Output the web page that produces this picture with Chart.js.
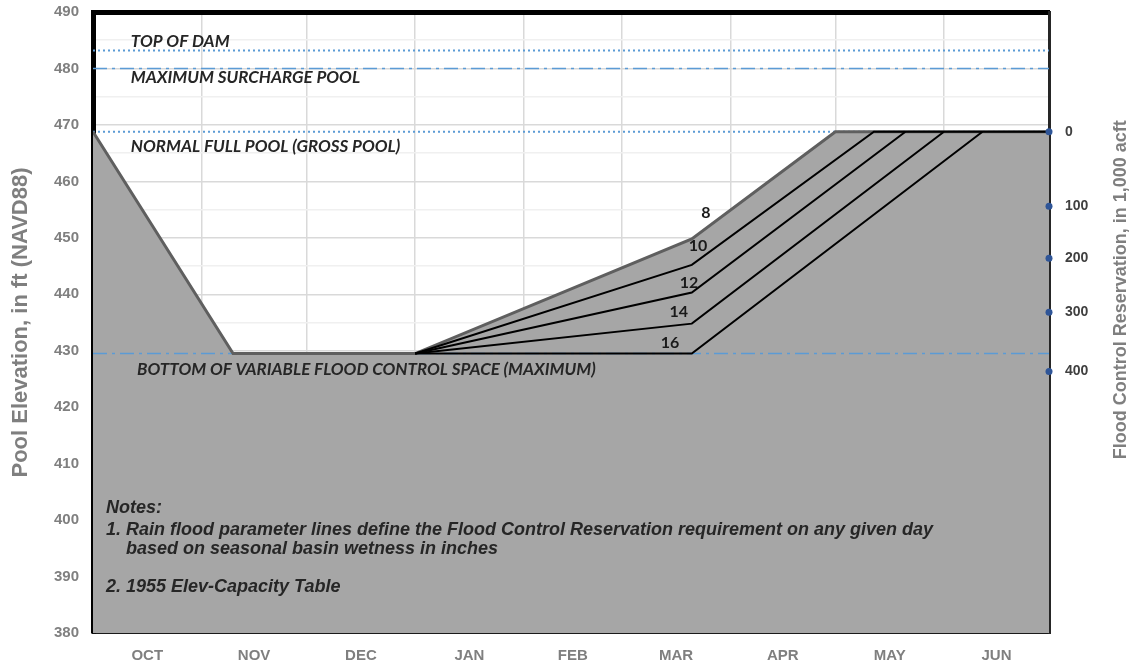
<!DOCTYPE html>
<html>
<head>
<meta charset="utf-8">
<script src="https://cdn.jsdelivr.net/npm/chart.js@4.4.1/dist/chart.umd.min.js"></script>
<style>
  body { margin: 0; background: #fff; }
  #wrap { width: 1133px; height: 666px; }
</style>
</head>
<body>
<div id="wrap"><canvas id="chart"></canvas></div>
<script>
// x is day of the water year, Oct 1 = 0
const months = ['OCT', 'NOV', 'DEC', 'JAN', 'FEB', 'MAR', 'APR', 'MAY', 'JUN'];
const monthStartDays = [0, 31, 61, 92, 123, 151, 182, 212, 243, 273];

// upper envelope (8 in. line), ft NAVD88
const envelopeDays = [0, 40, 92, 171, 212, 273];
const envelopeElev = [468.8, 429.5, 429.5, 449.8, 468.8, 468.8];

// other rain flood parameter lines
const line10Days = [92, 171, 223, 273];
const line10Elev = [429.5, 445.2, 468.8, 468.8];
const line12Days = [92, 171, 232];
const line12Elev = [429.5, 440.3, 468.8];
const line14Days = [92, 171, 243];
const line14Elev = [429.5, 434.8, 468.8];
const line16Days = [92, 171, 254];
const line16Elev = [429.5, 429.5, 468.8];

// reference levels
const topOfDam = 483.2;
const maxSurcharge = 480;
const normalFullPool = 468.8;
const bottomFloodSpace = 429.5;

// flood control reservation (1,000 acft) and matching elevation
const reservationLabels = [0, 100, 200, 300, 400];
const reservationElev = [468.8, 455.6, 446.4, 436.8, 426.3];

const endDay = monthStartDays[monthStartDays.length - 1];
const monthMids = months.map((m, i) => (monthStartDays[i] + monthStartDays[i + 1]) / 2);

const pts = (xs, ys) => xs.map((x, i) => ({ x: x, y: ys[i] }));
const flat = (y) => [{ x: 0, y: y }, { x: endDay, y: y }];

const BLUE = '#5b9bd5';
const LABEL_FONT = 'italic bold 17px Lato';
const NUM_FONT = 'bold 16px Lato';
const NOTE_FONT = 'italic bold 18px "Liberation Sans"';

// texts placed in data units (day, elevation)
const annotations = [
  { text: 'TOP OF DAM', x: 10.8, y: 484.8, font: LABEL_FONT, color: '#262626', align: 'left' },
  { text: 'MAXIMUM SURCHARGE POOL', x: 10.8, y: 478.4, font: LABEL_FONT, color: '#262626', align: 'left' },
  { text: 'NORMAL FULL POOL (GROSS POOL)', x: 10.8, y: 466.1, font: LABEL_FONT, color: '#262626', align: 'left' },
  { text: 'BOTTOM OF VARIABLE FLOOD CONTROL SPACE (MAXIMUM)', x: 12.6, y: 426.6, font: LABEL_FONT, color: '#262626', align: 'left' },
  { text: '8', x: 175, y: 454.4, font: NUM_FONT, color: '#1a1a1a', align: 'center' },
  { text: '10', x: 172.8, y: 448.5, font: NUM_FONT, color: '#1a1a1a', align: 'center' },
  { text: '12', x: 170.2, y: 442.1, font: NUM_FONT, color: '#1a1a1a', align: 'center' },
  { text: '14', x: 167.3, y: 436.8, font: NUM_FONT, color: '#1a1a1a', align: 'center' },
  { text: '16', x: 164.8, y: 431.4, font: NUM_FONT, color: '#1a1a1a', align: 'center' },
  { text: 'Notes:', x: 3.7, y: 402.1, font: NOTE_FONT, color: '#262626', align: 'left' },
  { text: '1. Rain flood parameter lines define the Flood Control Reservation requirement on any given day', x: 3.7, y: 398.3, font: NOTE_FONT, color: '#262626', align: 'left' },
  { text: 'based on seasonal basin wetness in inches', x: 9.4, y: 394.8, font: NOTE_FONT, color: '#262626', align: 'left' },
  { text: '2. 1955 Elev-Capacity Table', x: 3.7, y: 388.2, font: NOTE_FONT, color: '#262626', align: 'left' }
];

const textPlugin = {
  id: 'texts',
  afterDatasetsDraw(chart) {
    const { ctx, scales: { x, y } } = chart;
    ctx.save();
    ctx.textBaseline = 'middle';
    annotations.forEach(a => {
      ctx.font = a.font;
      ctx.fillStyle = a.color;
      ctx.textAlign = a.align;
      ctx.fillText(a.text, x.getPixelForValue(a.x), y.getPixelForValue(a.y));
    });
    // right axis title, reads bottom to top like the left one
    ctx.translate(1121, y.getPixelForValue(440.8));
    ctx.rotate(-Math.PI / 2);
    ctx.font = 'bold 18px "Liberation Sans"';
    ctx.fillStyle = '#7f7f7f';
    ctx.textAlign = 'center';
    ctx.fillText('Flood Control Reservation, in 1,000 acft', 0, 0);
    ctx.restore();
  }
};

const lineStyle = { pointRadius: 0, fill: false, tension: 0, yAxisID: 'y' };

new Chart(document.getElementById('chart'), {
  type: 'line',
  data: {
    datasets: [
      { ...lineStyle, label: 'envelope', data: pts(envelopeDays, envelopeElev), fill: 'start',
        backgroundColor: '#a6a6a6', borderColor: '#5f5f5f', borderWidth: 3, order: 2 },
      { ...lineStyle, label: '10', data: pts(line10Days, line10Elev), borderColor: '#000', borderWidth: 2, order: 1 },
      { ...lineStyle, label: '12', data: pts(line12Days, line12Elev), borderColor: '#000', borderWidth: 2, order: 1 },
      { ...lineStyle, label: '14', data: pts(line14Days, line14Elev), borderColor: '#000', borderWidth: 2, order: 1 },
      { ...lineStyle, label: '16', data: pts(line16Days, line16Elev), borderColor: '#000', borderWidth: 2, order: 1 },
      { ...lineStyle, label: 'Top of Dam', data: flat(topOfDam), borderColor: BLUE, borderWidth: 2, borderDash: [2, 3], order: 5 },
      { ...lineStyle, label: 'Max Surcharge', data: flat(maxSurcharge), borderColor: BLUE, borderWidth: 1.5, borderDash: [14, 5, 3, 5], order: 5 },
      { ...lineStyle, label: 'Normal Full Pool', data: flat(normalFullPool), borderColor: BLUE, borderWidth: 2, borderDash: [2, 3], order: 5 },
      { ...lineStyle, label: 'Bottom', data: flat(bottomFloodSpace), borderColor: BLUE, borderWidth: 1.5, borderDash: [14, 5, 3, 5], order: 5 },
      { type: 'scatter', label: 'Reservation', yAxisID: 'y2',
        data: reservationElev.map(e => ({ x: endDay, y: e })),
        pointRadius: 3.5, pointBackgroundColor: '#2f5597', pointBorderWidth: 0, clip: false, order: 0 }
    ]
  },
  options: {
    responsive: true,
    maintainAspectRatio: false,
    animation: false,
    layout: { padding: 0 },
    plugins: {
      legend: { display: false },
      tooltip: { enabled: false },
      filler: { drawTime: 'beforeDatasetsDraw' }
    },
    scales: {
      x: {
        type: 'linear',
        position: 'bottom',
        min: 0,
        max: endDay,
        z: 1,
        afterBuildTicks: (scale) => {
          const vals = monthStartDays.concat(monthMids).sort((a, b) => a - b);
          scale.ticks = vals.map(v => ({ value: v }));
        },
        afterFit: (scale) => {
          scale.height = 33;
          scale.paddingLeft = 0;
          scale.paddingRight = 0;
        },
        grid: {
          drawTicks: false,
          color: (c) => {
            const v = c.tick ? c.tick.value : -1;
            if (v <= 0 || v >= endDay) return 'transparent';
            return monthStartDays.includes(v) ? '#d9d9d9' : 'transparent';
          },
          lineWidth: 1.5
        },
        border: { display: true, color: '#1a1a1a', width: 2 },
        ticks: {
          autoSkip: false,
          maxRotation: 0,
          padding: 14,
          color: '#7f7f7f',
          font: { family: 'Liberation Sans', weight: 'bold', size: 15 },
          callback: (v) => {
            const i = monthMids.indexOf(v);
            return i >= 0 ? months[i] : '';
          }
        }
      },
      xTop: {
        type: 'linear',
        position: 'top',
        afterFit: (scale) => { scale.height = 12; },
        grid: { display: false },
        ticks: { display: false },
        border: { display: true, color: '#000', width: 5 }
      },
      y: {
        type: 'linear',
        position: 'left',
        min: 380,
        max: 490,
        afterFit: (scale) => {
          scale.width = 93;
          scale.paddingTop = 0;
          scale.paddingBottom = 0;
        },
        grid: {
          drawTicks: false,
          color: (c) => (c.tick && c.tick.value % 10 === 0) ? '#d9d9d9' : '#f0f0f0',
          lineWidth: 1.5
        },
        border: { display: true, color: '#000', width: 5 },
        ticks: {
          stepSize: 5,
          padding: 14,
          color: '#7f7f7f',
          font: { family: 'Liberation Sans', weight: 'bold', size: 15 },
          callback: (v) => v % 10 === 0 ? v : ''
        },
        title: {
          display: true,
          text: 'Pool Elevation, in ft (NAVD88)',
          color: '#7f7f7f',
          font: { family: 'Liberation Sans', weight: 'bold', size: 22 },
          padding: { top: 8, bottom: 0 }
        }
      },
      y2: {
        type: 'linear',
        position: 'right',
        min: 380,
        max: 490,
        afterBuildTicks: (scale) => {
          scale.ticks = reservationElev.map(e => ({ value: e }));
        },
        afterFit: (scale) => {
          scale.width = 84;
          scale.paddingTop = 0;
          scale.paddingBottom = 0;
        },
        grid: { display: false, drawTicks: false },
        border: { display: true, color: '#262626', width: 3 },
        ticks: {
          padding: 16,
          color: '#404040',
          font: { family: 'Liberation Sans', weight: 'bold', size: 14 },
          callback: (v) => {
            const i = reservationElev.indexOf(v);
            return i >= 0 ? reservationLabels[i] : '';
          }
        }
      }
    }
  },
  plugins: [textPlugin]
});
</script>
</body>
</html>
